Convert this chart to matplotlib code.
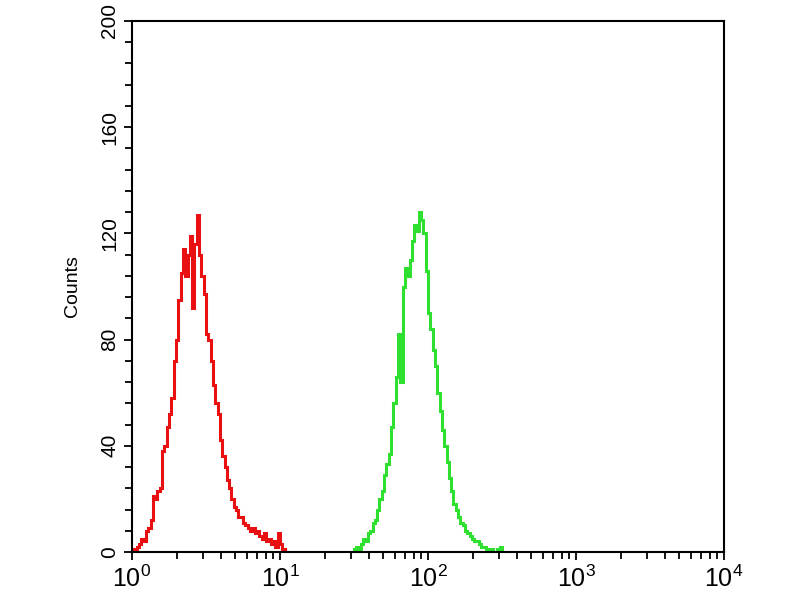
import numpy as np
import matplotlib
matplotlib.use("Agg")
import matplotlib.pyplot as plt
from matplotlib.ticker import FixedLocator, LogLocator, MultipleLocator, FixedFormatter

# histogram channels: 64 per decade, 0..256 across 10^0..10^4
ch_per_decade = 64

# red (control) histogram, starts at channel 0
red_start = 0
red_counts = [0, 1, 2, 3, 5, 4, 8, 9, 12, 21, 20, 23, 24, 38, 40, 47, 52, 58,
              72, 80, 95, 105, 114, 104, 112, 119, 92, 116, 127, 112, 104, 97,
              82, 80, 72, 63, 56, 52, 42, 36, 32, 27, 24, 20, 17, 16, 13, 13,
              11, 10, 9, 8, 9, 7, 8, 6, 5, 7, 4, 5, 3, 4, 2, 7, 3, 1, 0]

# green (sample) histogram
green_start = 95
green_counts = [0, 1, 2, 1, 3, 5, 4, 7, 8, 11, 12, 16, 20, 23, 29, 33, 37, 47,
                56, 66, 82, 64, 100, 107, 104, 110, 117, 123, 121, 128, 125,
                120, 106, 90, 84, 76, 70, 60, 53, 46, 40, 34, 28, 23, 18, 16,
                13, 11, 10, 8, 7, 6, 5, 4, 4, 3, 2, 2, 1, 1, 1, 0, 0, 1, 2, 0]

x_ticks = [1, 10, 100, 1000, 10000]
x_labels = ["$10^0$", "$10^1$", "$10^2$", "$10^3$", "$10^4$"]
y_ticks = [0, 40, 80, 120, 160, 200]

plt.rcParams['font.family'] = ['Liberation Sans', 'DejaVu Sans']
plt.rcParams['mathtext.fontset'] = 'custom'
plt.rcParams['mathtext.rm'] = 'Liberation Sans'
plt.rcParams['mathtext.it'] = 'Liberation Sans'

fig = plt.figure(figsize=(8, 6), dpi=100)
ax = fig.add_axes([0.165, 0.08, 0.74, 0.885])

def edges(start, n):
    return 10 ** (np.arange(start, start + n + 1) / ch_per_decade)

ax.stairs(red_counts, edges(red_start, len(red_counts)), color='#e81010', lw=2.2)
ax.stairs(green_counts, edges(green_start, len(green_counts)), color='#30e030', lw=2.2)

ax.set_xscale('log')
ax.set_xlim(1, 10 ** 4)
ax.set_ylim(0, 200)

ax.xaxis.set_major_locator(FixedLocator(x_ticks))
ax.xaxis.set_major_formatter(FixedFormatter(x_labels))
ax.xaxis.set_minor_locator(LogLocator(base=10, subs=np.arange(2, 10), numticks=20))
ax.set_yticks(y_ticks)
ax.yaxis.set_minor_locator(MultipleLocator(8))

ax.tick_params(axis='both', which='major', direction='out', length=6, width=1.3)
ax.tick_params(axis='both', which='minor', direction='out', length=5, width=1.3)
ax.tick_params(axis='x', labelsize=18, pad=4)
ax.tick_params(axis='y', labelsize=15, pad=3)
for lab in ax.get_yticklabels():
    lab.set_rotation(90)
    lab.set_va('center')

for s in ax.spines.values():
    s.set_linewidth(1.5)

ax.set_ylabel("Counts", fontsize=14, labelpad=14)

fig.savefig("out.png", dpi=100)
